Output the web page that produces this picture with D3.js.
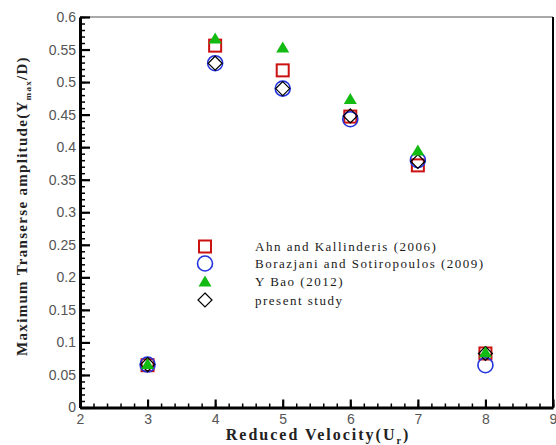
<!DOCTYPE html>
<html>
<head>
<meta charset="utf-8">
<script src="https://cdn.jsdelivr.net/npm/d3@7"></script>
<style>
  body { margin: 0; background: #fff; }
  svg { display: block; }
</style>
</head>
<body>
<div id="chart"></div>
<script>
// reduced velocity values
const velocities = [3, 4, 5, 6, 7, 8];

const ahn = [0.065, 0.556, 0.518, 0.447, 0.372, 0.083];
const borazjani = [0.066, 0.529, 0.490, 0.443, 0.380, 0.065];
const bao = [0.067, 0.567, 0.553, 0.474, 0.395, 0.085];
const present = [0.066, 0.529, 0.490, 0.448, 0.378, 0.083];

const seriesNames = [
    'Ahn and Kallinderis (2006)',
    'Borazjani and Sotiropoulos (2009)',
    'Y Bao (2012)',
    'present study'
];

const xTicks = [2, 3, 4, 5, 6, 7, 8, 9];
const yTicks = [0, 0.05, 0.1, 0.15, 0.2, 0.25, 0.3, 0.35, 0.4, 0.45, 0.5, 0.55, 0.6];

const width = 556;
const height = 445;
const area = { left: 80, right: 553, top: 17, bottom: 407.5 };

const svg = d3.select('#chart')
    .append('svg')
    .attr('width', width)
    .attr('height', height);

const xScale = d3.scaleLinear().domain([2, 9]).range([area.left, area.right]);
const yScale = d3.scaleLinear().domain([0, 0.6]).range([area.bottom, area.top]);

// frame: thin top, thick right
svg.append('line')
    .attr('x1', area.left).attr('x2', area.right)
    .attr('y1', area.top).attr('y2', area.top)
    .attr('stroke', '#555').attr('stroke-width', 1.2);
svg.append('line')
    .attr('x1', area.right).attr('x2', area.right)
    .attr('y1', area.top).attr('y2', area.bottom)
    .attr('stroke', '#000').attr('stroke-width', 2);

// minor ticks
const xMinor = d3.range(2, 9.001, 0.2).map(v => +v.toFixed(2));
const yMinor = d3.range(0, 0.6001, 0.01).map(v => +v.toFixed(3));

svg.append('g')
    .attr('transform', `translate(0, ${area.bottom})`)
    .call(d3.axisBottom(xScale).tickValues(xMinor).tickFormat('').tickSize(-4).tickSizeOuter(0))
    .call(g => g.select('.domain').remove())
    .selectAll('line').attr('stroke-width', 1.5);

svg.append('g')
    .attr('transform', `translate(${area.left}, 0)`)
    .call(d3.axisLeft(yScale).tickValues(yMinor).tickFormat('').tickSize(-5).tickSizeOuter(0))
    .call(g => g.select('.domain').remove())
    .selectAll('line').attr('stroke-width', 1.5);

// major axes
const xAxis = svg.append('g')
    .attr('transform', `translate(0, ${area.bottom})`)
    .call(d3.axisBottom(xScale).tickValues(xTicks).tickFormat(d3.format('d')).tickSize(-8).tickSizeOuter(0).tickPadding(5));

const yAxis = svg.append('g')
    .attr('transform', `translate(${area.left}, 0)`)
    .call(d3.axisLeft(yScale).tickValues(yTicks).tickFormat(d => d === 0 ? '0' : String(+d.toFixed(2))).tickSize(-10).tickSizeOuter(0).tickPadding(4));

[xAxis, yAxis].forEach(ax => {
    ax.select('.domain').attr('stroke-width', 3);
    ax.selectAll('.tick line').attr('stroke-width', 2.2);
    ax.selectAll('.tick text')
        .style('font-family', 'Liberation Sans, Arial, sans-serif')
        .style('font-size', '14px')
        .attr('fill', '#555');
});
xAxis.selectAll('.tick text').attr('dy', '0.8em');

// marker symbols
function drawMarker(g, kind, cx, cy) {
    if (kind === 0) {
        g.append('rect')
            .attr('x', cx - 6).attr('y', cy - 6)
            .attr('width', 12).attr('height', 12)
            .attr('fill', '#fff').attr('stroke', '#cc1111').attr('stroke-width', 2);
    } else if (kind === 1) {
        g.append('circle')
            .attr('cx', cx).attr('cy', cy).attr('r', 7.5)
            .attr('fill', 'none').attr('stroke', '#2233dd').attr('stroke-width', 1.6);
    } else if (kind === 2) {
        g.append('path')
            .attr('d', `M${cx},${cy - 6}L${cx + 6.5},${cy + 5}L${cx - 6.5},${cy + 5}Z`)
            .attr('fill', '#11bb11');
    } else {
        g.append('path')
            .attr('d', `M${cx},${cy - 7}L${cx + 7},${cy}L${cx},${cy + 7}L${cx - 7},${cy}Z`)
            .attr('fill', 'none').attr('stroke', '#000').attr('stroke-width', 1.2);
    }
}

const allSeries = [ahn, borazjani, present, bao];
const kinds = [0, 1, 3, 2];
const marks = svg.append('g');
allSeries.forEach((values, i) => {
    values.forEach((v, j) => drawMarker(marks, kinds[i], xScale(velocities[j]), yScale(v)));
});

// legend
const legend = svg.append('g');
const legendY = [246.5, 263.5, 281.5, 300];
const legendKinds = [0, 1, 2, 3];
seriesNames.forEach((name, i) => {
    drawMarker(legend, legendKinds[i], 205, legendY[i]);
    legend.append('text')
        .attr('x', 255)
        .attr('y', legendY[i] + 4.5)
        .style('font-family', 'Liberation Serif, serif')
        .style('font-size', '13px')
        .style('letter-spacing', '1.5px')
        .attr('fill', '#1a1a1a')
        .text(name);
});

// axis titles
const xTitle = svg.append('text')
    .attr('text-anchor', 'middle')
    .attr('x', 318)
    .attr('y', 440)
    .style('font-family', 'Liberation Serif, serif')
    .style('font-size', '16px')
    .style('font-weight', 'bold')
    .style('letter-spacing', '2px')
    .attr('fill', '#222');
xTitle.append('tspan').text('Reduced Velocity(U');
xTitle.append('tspan').attr('font-size', '10px').attr('dy', 4).text('r');
xTitle.append('tspan').attr('dy', -4).text(')');

const yTitle = svg.append('text')
    .attr('text-anchor', 'middle')
    .attr('transform', 'rotate(-90)')
    .attr('x', -206)
    .attr('y', 27)
    .style('font-family', 'Liberation Serif, serif')
    .style('font-size', '15px')
    .style('font-weight', 'bold')
    .style('letter-spacing', '1.3px')
    .attr('fill', '#222');
yTitle.append('tspan').text('Maximum Transerse amplitude(Y');
yTitle.append('tspan').attr('font-size', '9px').attr('dy', 4).text('max');
yTitle.append('tspan').attr('dy', -4).text('/D)');
</script>
</body>
</html>
